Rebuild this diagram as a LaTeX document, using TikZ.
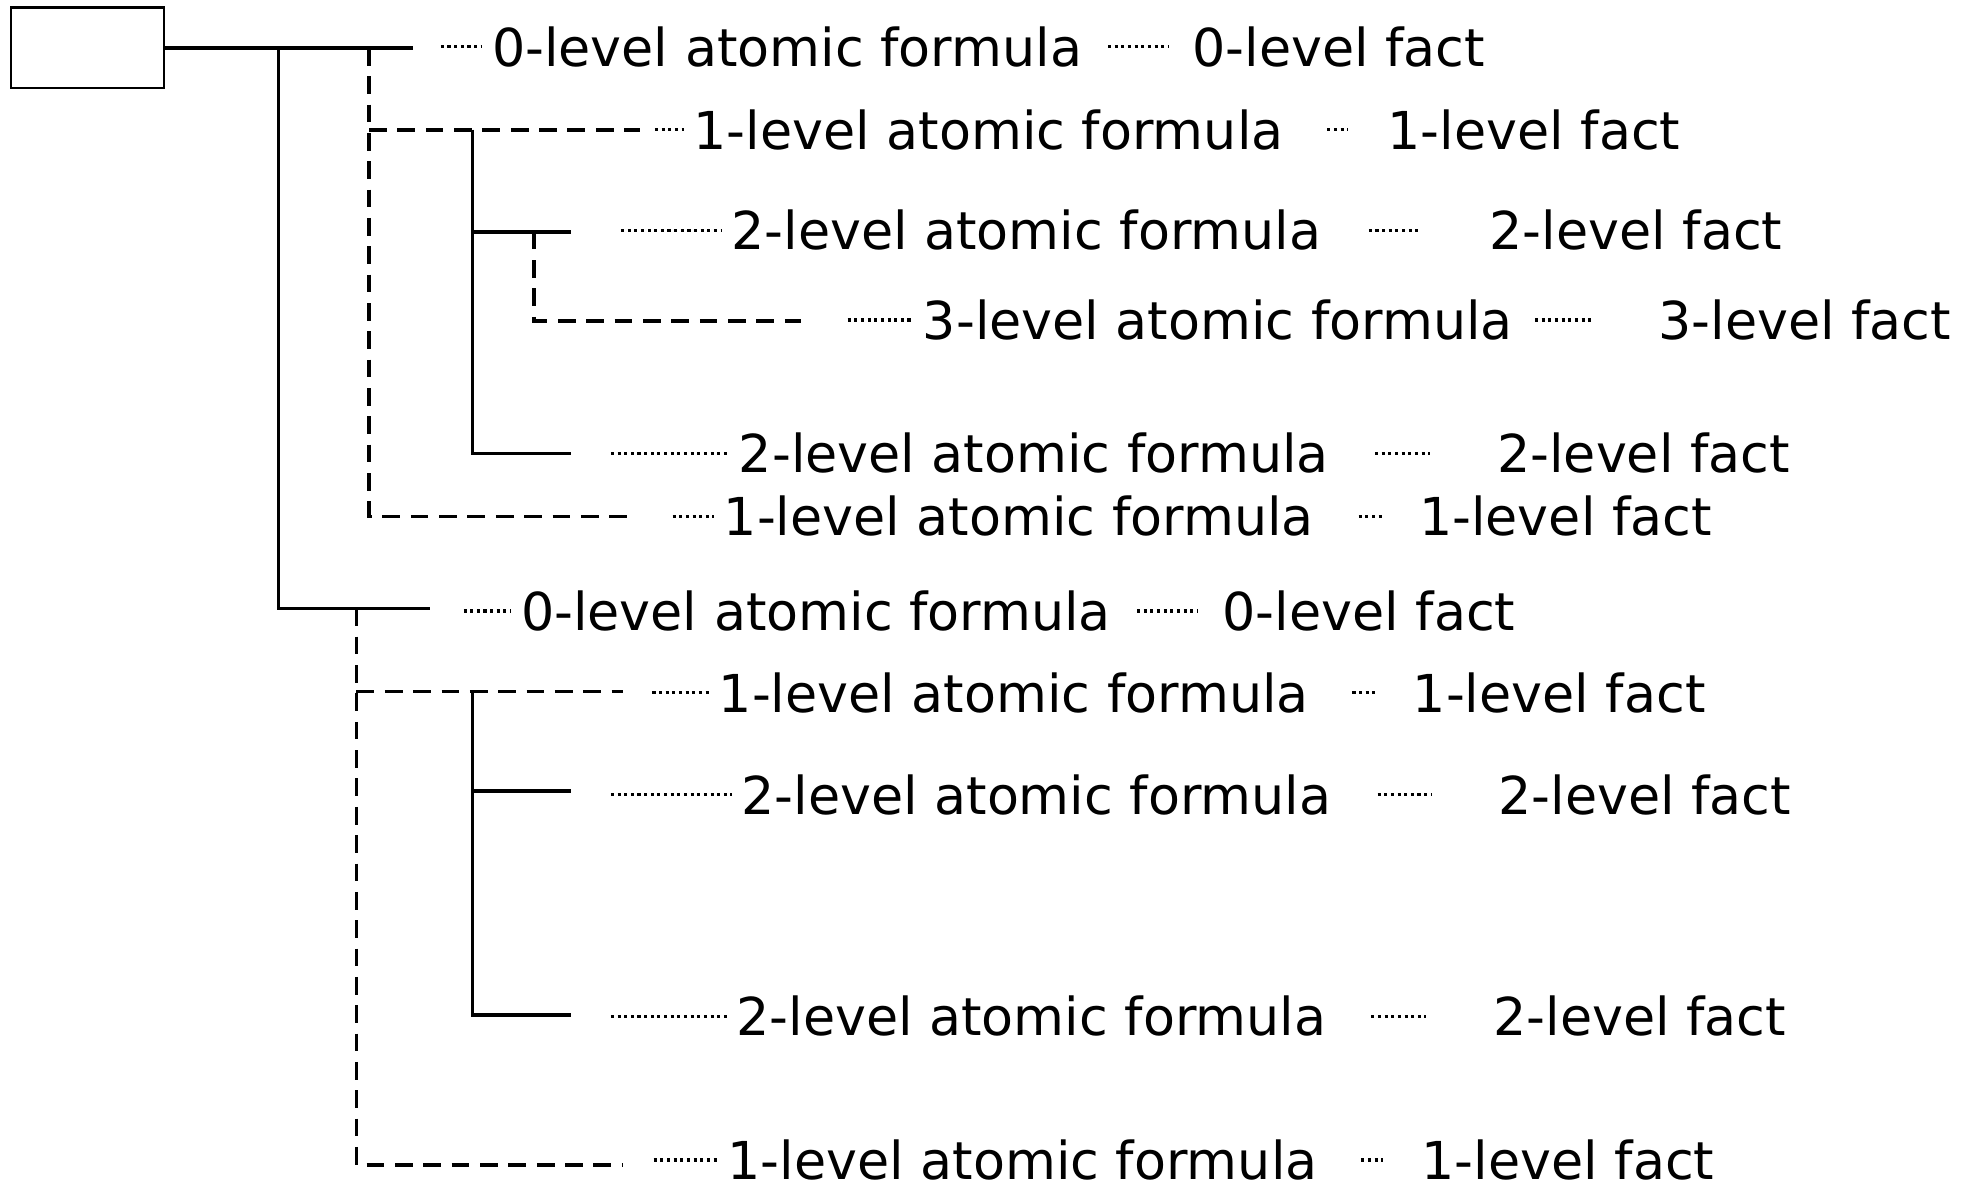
\documentclass[tikz,border=0pt]{standalone}
\usepackage{fontspec}
\setmainfont{DejaVu Sans}
\begin{document}
\begin{tikzpicture}[x=0.01cm,y=-0.01cm,
  tree/.style={line width=0.8pt},
  treedash/.style={line width=0.8pt, dash pattern=on 4pt off 2.4pt},
  dotl/.style={line width=0.75pt, dash pattern=on 0.7pt off 0.8pt},
  lbl/.style={anchor=west, inner sep=0pt, font=\fontsize{11.8pt}{14pt}\selectfont}
]
\useasboundingbox (0,0) rectangle (1568,942);
\node[draw, line width=0.5pt, minimum width=1.21cm, minimum height=0.64cm, inner sep=0pt] (root) at (69.5,38) {};

% tree coordinates
\coordinate (T1) at (328,38);
\coordinate (A0) at (221,38);
\coordinate (A7) at (221,483);
\coordinate (T7) at (341,483);
\coordinate (B0) at (293,38);
\coordinate (B6) at (293,410);
\coordinate (T6) at (505,410);
\coordinate (B2) at (293,103);
\coordinate (T2) at (508,103);
\coordinate (C2) at (375,103);
\coordinate (C5) at (375,360);
\coordinate (T5) at (453,360);
\coordinate (C3) at (375,184);
\coordinate (T3) at (453,184);
\coordinate (D3) at (424,184);
\coordinate (D4) at (424,255);
\coordinate (T4) at (636,255);
\coordinate (E7) at (283,483);
\coordinate (E11) at (283,925);
\coordinate (T11) at (495,925);
\coordinate (E8) at (283,549);
\coordinate (T8) at (495,549);
\coordinate (H8) at (375,549);
\coordinate (H10) at (375,806);
\coordinate (T10) at (453,806);
\coordinate (H9) at (375,628);
\coordinate (T9) at (453,628);

\draw[tree] (root.east) -- (T1);
\draw[tree] (A0) -- (A7) -- (T7);
\draw[treedash] (B0) -- (B6) -- (T6);
\draw[treedash] (B2) -- (T2);
\draw[tree] (C2) -- (C5) -- (T5);
\draw[tree] (C3) -- (T3);
\draw[treedash] (D3) -- (D4) -- (T4);
\draw[treedash] (E7) -- (E11) -- (T11);
\draw[treedash] (E8) -- (T8);
\draw[tree] (H8) -- (H10) -- (T10);
\draw[tree] (H9) -- (T9);

\foreach \i/\y/\lx/\fx/\sa/\sb/\gx/\n in {
  1/37/350/390/0.20cm/0.18cm/946/0,
  2/103/520/550/0.34cm/0.31cm/1101/1,
  3/183/493/580/0.37cm/0.54cm/1182/2,
  4/254/673/732/0.17cm/0.51cm/1316/3,
  5/360/485/586/0.36cm/0.53cm/1188/2,
  6/410/534/574/0.35cm/0.29cm/1126/1,
  7/485/368/413/0.20cm/0.19cm/970/0,
  8/550/518/570/0.34cm/0.29cm/1121/1,
  9/631/485/588/0.36cm/0.52cm/1189/2,
  10/807/485/584/0.35cm/0.53cm/1185/2,
  11/921/519/577/0.34cm/0.30cm/1128/1}
{
  \coordinate (L\i) at (\lx,\y);
  \node[lbl] (F\i) at (\fx,\y) {\n-level atomic formula};
  \node[lbl] (G\i) at (\gx,\y) {\n-level fact};
  \draw[dotl, shorten >=0.07cm] (L\i) -- (F\i.west);
  \draw[dotl, shorten <=\sa, shorten >=\sb] (F\i.east) -- (G\i.west);
}
\end{tikzpicture}
\end{document}
